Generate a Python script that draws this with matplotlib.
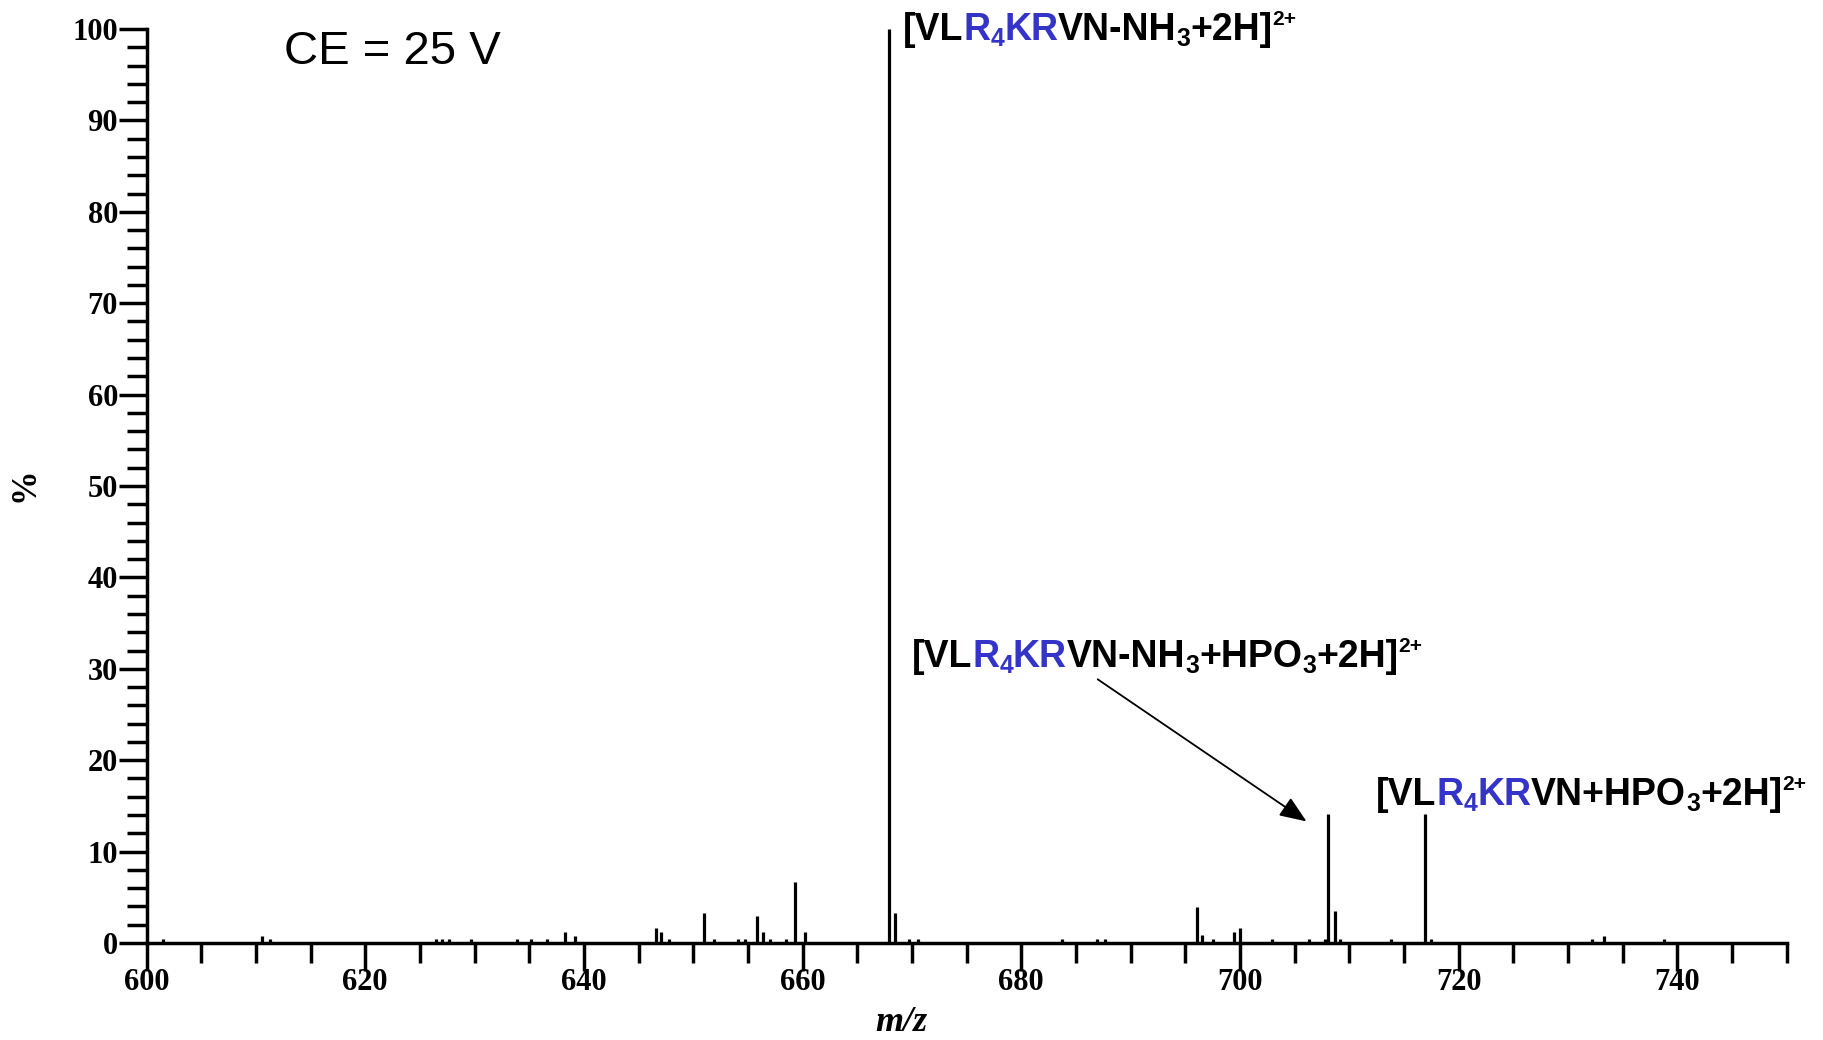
import matplotlib
matplotlib.use('Agg')
import matplotlib.pyplot as plt
from matplotlib.ticker import MultipleLocator
from matplotlib.transforms import offset_copy

# peak list: m/z and relative intensity (%)
mz = [601.5, 610.6, 611.3, 626.5, 627.0, 627.7, 629.65, 633.9, 635.15, 636.6,
      638.3, 639.2, 646.6, 647.1, 647.8, 650.95, 651.9, 654.1, 654.75, 655.85,
      656.4, 657.0, 658.5, 659.35, 660.2, 667.9, 668.5, 669.7, 670.6, 683.75,
      686.9, 687.7, 696.1, 696.55, 697.5, 699.45, 700.0, 702.95, 706.3, 707.8,
      708.1, 708.7, 709.2, 713.8, 716.95, 717.5, 732.2, 733.3, 738.8]
intensity = [0.4, 0.8, 0.4, 0.4, 0.4, 0.4, 0.4, 0.4, 0.4, 0.4,
             1.2, 0.8, 1.6, 1.2, 0.4, 3.25, 0.4, 0.4, 0.4, 2.95,
             1.2, 0.4, 0.4, 6.7, 1.2, 100.0, 3.25, 0.4, 0.4, 0.4,
             0.4, 0.4, 3.9, 0.9, 0.4, 1.2, 1.6, 0.4, 0.4, 0.4,
             14.1, 3.5, 0.4, 0.4, 14.1, 0.4, 0.4, 0.8, 0.4]

BLUE = '#3434c8'
SANS = 'Liberation Sans'

# ion labels as (text, colour, kind) pieces
ion_nh3 = [('[VL', 'k', ''), ('R', BLUE, ''), ('4', BLUE, 'sub'), ('KR', BLUE, ''),
           ('VN-NH', 'k', ''), ('3', 'k', 'sub'), ('+2H]', 'k', ''), ('2+', 'k', 'sup')]
ion_nh3_hpo3 = [('[VL', 'k', ''), ('R', BLUE, ''), ('4', BLUE, 'sub'), ('KR', BLUE, ''),
                ('VN-NH', 'k', ''), ('3', 'k', 'sub'), ('+HPO', 'k', ''), ('3', 'k', 'sub'),
                ('+2H]', 'k', ''), ('2+', 'k', 'sup')]
ion_hpo3 = [('[VL', 'k', ''), ('R', BLUE, ''), ('4', BLUE, 'sub'), ('KR', BLUE, ''),
            ('VN+HPO', 'k', ''), ('3', 'k', 'sub'), ('+2H]', 'k', ''), ('2+', 'k', 'sup')]

plt.rcParams['font.family'] = 'Liberation Serif'
plt.rcParams['font.weight'] = 'bold'


def rich_text(ax, x, y, parts, size):
    # lay the pieces out one after another, sub/superscripts shifted
    fig = ax.figure
    r = fig.canvas.get_renderer()
    dx = 0.0
    for s, c, kind in parts:
        fs, dy = size, 0.0
        if kind == 'sub':
            fs, dy = size * 0.66, -0.16 * size
        elif kind == 'sup':
            fs, dy = size * 0.56, 0.40 * size
        tr = offset_copy(ax.transData, fig=fig, x=dx, y=dy, units='points')
        t = ax.text(x, y, s, transform=tr, color=c, fontsize=fs, fontweight='bold',
                    family=SANS, ha='left', va='baseline', clip_on=False)
        dx += t.get_window_extent(r).width * 72 / fig.dpi


fig = plt.figure(figsize=(18.23, 10.40), dpi=100)
ax = fig.add_axes([146.5 / 1823, 1 - 943 / 1040, 1640 / 1823, 914 / 1040])

ax.vlines(mz, 0, intensity, colors='k', lw=2.3, clip_on=False)

ax.set_xlim(600, 750)
ax.set_ylim(0, 100)
ax.xaxis.set_major_locator(MultipleLocator(20))
ax.xaxis.set_minor_locator(MultipleLocator(5))
ax.yaxis.set_major_locator(MultipleLocator(10))
ax.yaxis.set_minor_locator(MultipleLocator(2))
for side in ['top', 'right']:
    ax.spines[side].set_visible(False)
for side in ['left', 'bottom']:
    ax.spines[side].set_linewidth(2.5)
ax.tick_params(which='major', direction='out', length=20, width=2.5, labelsize=22)
ax.tick_params(which='minor', direction='out', length=14.4, width=2.5)
ax.tick_params(axis='x', which='major', pad=-2)
ax.tick_params(axis='y', which='major', pad=0.5)
ax.set_xticks([600, 620, 640, 660, 680, 700, 720, 740])

fig.text(25 / 1823, 1 - 485 / 1040, '%', rotation=90, fontsize=25,
         ha='center', va='center')
fig.text(901 / 1823, 1 - 1031 / 1040, 'm/z', style='italic', fontsize=26,
         ha='center', va='baseline')

ax.text(612.6, 96.2, 'CE = 25 V', family=SANS, fontweight='normal', fontsize=34,
        va='baseline')

rich_text(ax, 669.2, 98.8, ion_nh3, 27)
rich_text(ax, 670.0, 30.2, ion_nh3_hpo3, 27)
rich_text(ax, 712.45, 15.1, ion_hpo3, 27)

ax.annotate('', xy=(706.1, 13.3), xytext=(687.0, 28.85),
            arrowprops=dict(arrowstyle='-|>,head_length=0.55,head_width=0.22',
                            mutation_scale=30, lw=1.3, color='k',
                            shrinkA=0, shrinkB=0))

fig.savefig('out.png', dpi=100)
